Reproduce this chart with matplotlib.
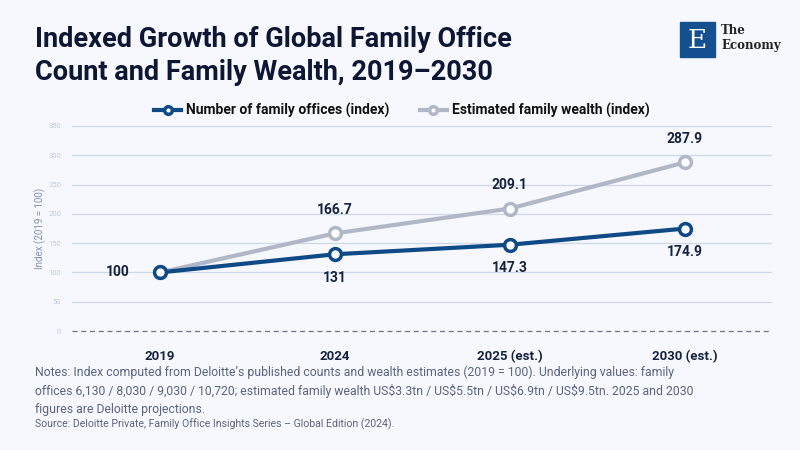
import matplotlib.pyplot as plt
from matplotlib.patches import Rectangle

years = ['2019', '2024', '2025 (est.)', '2030 (est.)']
offices_idx = [100, 131, 147.3, 174.9]
wealth_idx = [100, 166.7, 209.1, 287.9]
office_labels = ['100', '131', '147.3', '174.9']
wealth_labels = ['', '166.7', '209.1', '287.9']
y_ticks = [0, 50, 100, 150, 200, 250, 300, 350]

bg = '#f7f8fd'
navy = '#0f4a87'
grey = '#b2b7c7'
ink = '#16223f'

plt.rcParams['font.family'] = ['Roboto', 'DejaVu Sans']

fig = plt.figure(figsize=(8, 4.5), dpi=100, facecolor=bg)
ax = fig.add_axes([0.0906, 1 - 331 / 450, 0.875, 205 / 450])
ax.set_facecolor(bg)

x = list(range(len(years)))

ax.plot(x, wealth_idx, color=grey, lw=3, marker='o', ms=8.5, mfc='white',
        mec=grey, mew=2.5, label='Estimated family wealth (index)', zorder=3)
ax.plot(x, offices_idx, color=navy, lw=3, marker='o', ms=8.5, mfc='white',
        mec=navy, mew=2.5, label='Number of family offices (index)', zorder=4)

# value labels
for i, (v, t) in enumerate(zip(wealth_idx, wealth_labels)):
    if t:
        ax.annotate(t, (i, v), xytext=(0, 12), textcoords='offset points',
                    ha='center', va='bottom', fontsize=10, fontweight='bold', color=ink)
for i, (v, t) in enumerate(zip(offices_idx, office_labels)):
    if i == 0:
        ax.annotate(t, (i, v), xytext=(-22, 0), textcoords='offset points',
                    ha='right', va='center', fontsize=10, fontweight='bold', color=ink)
    else:
        ax.annotate(t, (i, v), xytext=(0, -12), textcoords='offset points',
                    ha='center', va='top', fontsize=10, fontweight='bold', color=ink)

ax.set_xlim(-0.5, 3.5)
ax.set_ylim(0, 350)
ax.set_yticks(y_ticks)
ax.set_xticks(x)
ax.set_xticklabels(years, fontsize=9.5, fontweight='bold', color=ink)
ax.tick_params(axis='y', labelsize=5.5, labelcolor='#c3cade', length=0, pad=8)
ax.tick_params(axis='x', length=0, pad=14)
ax.grid(axis='y', color='#cfd8e8', lw=0.9)
ax.axhline(0, color='#6f7585', lw=0.9, ls=(0, (4, 3)), zorder=2, clip_on=False)
for s in ax.spines.values():
    s.set_visible(False)
ax.set_ylabel('Index (2019 = 100)', fontsize=7, color='#8090b0', labelpad=2)

h, l = ax.get_legend_handles_labels()
leg = ax.legend(h[::-1], l[::-1], loc='lower center', bbox_to_anchor=(0.47, 1.0),
                ncol=2, frameon=False, fontsize=10, handlelength=2.0,
                handletextpad=0.3, columnspacing=2.2, borderaxespad=0.2,
                markerscale=0.65)
for t in leg.get_texts():
    t.set_fontweight('bold')
    t.set_color('#111111')

fig.text(35 / 800, 1 - 26 / 450,
         'Indexed Growth of Global Family Office\nCount and Family Wealth, 2019\u20132030',
         ha='left', va='top', fontsize=19.5, fontweight='bold', color='#0d1633',
         linespacing=1.3)

# logo
fig.patches.append(Rectangle((680 / 800, 1 - 57 / 450), 35 / 800, 35 / 450,
                             transform=fig.transFigure, color='#14508f'))
fig.text(697 / 800, 1 - 41 / 450, 'E', ha='center', va='center', fontsize=19,
         color='white', family='DejaVu Serif')
fig.text(721 / 800, 1 - 31 / 450, 'The', ha='left', va='center', fontsize=8.5,
         color='#222222', family='DejaVu Serif', fontweight='bold')
fig.text(721 / 800, 1 - 46 / 450, 'Economy', ha='left', va='center', fontsize=8.5,
         color='#222222', family='DejaVu Serif', fontweight='bold')

notes = ("Notes: Index computed from Deloitte\u2019s published counts and wealth estimates (2019 = 100). "
         "Underlying values: family\noffices 6,130 / 8,030 / 9,030 / 10,720; estimated family wealth "
         "US\\$3.3tn / US\\$5.5tn / US\\$6.9tn / US\\$9.5tn. 2025 and 2030\nfigures are Deloitte projections.")
fig.text(35 / 800, 1 - 366 / 450, notes, ha='left', va='top', fontsize=8.8,
         color='#5a6480', linespacing=1.45)
fig.text(35 / 800, 1 - 419 / 450,
         'Source: Deloitte Private, Family Office Insights Series \u2013 Global Edition (2024).',
         ha='left', va='top', fontsize=7.6, color='#5a6480')

fig.savefig('out.png', dpi=100, facecolor=bg)
